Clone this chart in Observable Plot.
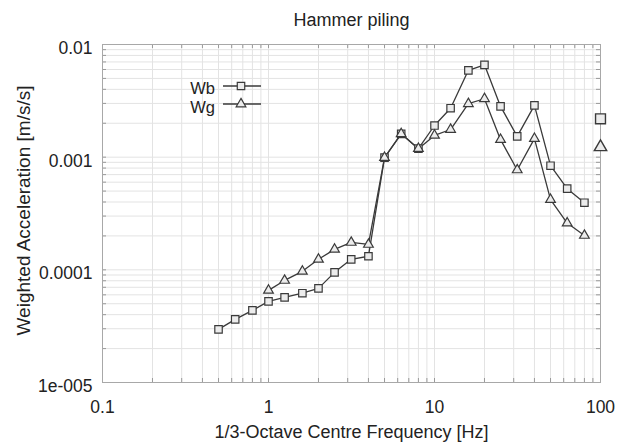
<!DOCTYPE html>
<html><head><meta charset="utf-8">
<script src="https://cdn.jsdelivr.net/npm/d3@7"></script>
<script src="https://cdn.jsdelivr.net/npm/@observablehq/plot@0.6"></script>
<style>
body{margin:0;background:#fff;font-family:"Liberation Sans",Arial,sans-serif}
#wrap{position:relative;width:632px;height:443px}
#legend{position:absolute;left:0;top:0;pointer-events:none}
</style>
</head><body><div id="wrap"></div>
<script>
// Data
const wbFreq = [0.5,0.63,0.8,1,1.25,1.6,2,2.5,3.15,4,5,6.3,8,10,12.5,16,20,25,31.5,40,50,63,80];
const wbValues = [2.96e-5,3.63e-5,4.37e-5,5.25e-5,5.7e-5,6.2e-5,6.85e-5,9.5e-5,1.24e-4,1.32e-4,9.9e-4,1.61e-3,1.19e-3,1.91e-3,2.72e-3,5.9e-3,6.6e-3,2.82e-3,1.53e-3,2.88e-3,8.4e-4,5.25e-4,3.94e-4];
const wgFreq = [1,1.25,1.6,2,2.5,3.15,4,5,6.3,8,10,12.5,16,20,25,31.5,40,50,63,80];
const wgValues = [6.57e-5,8.05e-5,9.7e-5,1.24e-4,1.52e-4,1.75e-4,1.68e-4,9.9e-4,1.61e-3,1.19e-3,1.56e-3,1.76e-3,2.98e-3,3.30e-3,1.43e-3,7.7e-4,1.46e-3,4.2e-4,2.6e-4,2.02e-4];
const overallFreq = [100];
const overallWb = [2.19e-3];
const overallWg = [1.23e-3];
const seriesNames = ["Wb","Wg"];
const xTicks = [0.1,1,10,100];
const xTickLabels = ["0.1","1","10","100"];
const yTicks = [1e-5,1e-4,1e-3,1e-2];
const yTickLabels = ["1e-005","0.0001","0.001","0.01"];
const titleText = "Hammer piling";
const xLabel = "1/3-Octave Centre Frequency [Hz]";
const yLabel = "Weighted Acceleration [m/s/s]";

// minor ticks (1..9 per decade)
const minorOf = (lo, hi) => {
  const out = [];
  for (let d = lo; d < hi * 0.999; d *= 10) for (let k = 1; k <= 9; k++) out.push(d * k);
  out.push(hi);
  return out;
};
const xMinor = minorOf(0.1, 100);
const yMinor = minorOf(1e-5, 1e-2);

const wb = wbFreq.map((f, i) => ({f, v: wbValues[i]}));
const wg = wgFreq.map((f, i) => ({f, v: wgValues[i]}));
const ovWb = overallFreq.map((f, i) => ({f, v: overallWb[i]}));
const ovWg = overallFreq.map((f, i) => ({f, v: overallWg[i]}));
const xTickData = xTicks.map((t, i) => ({t, label: xTickLabels[i]}));
const yTickData = yTicks.map((t, i) => ({t, label: yTickLabels[i]}));

const W = 632, H = 443, mL = 102, mR = 32, mT = 44, mB = 61;
const plotH = H - mT - mB, plotW = W - mL - mR;
const lineColor = "#3a3a3a";
const markFill = "#ececec";
const fs = 17.5;

const chart = Plot.plot({
  width: W, height: H,
  marginLeft: mL, marginRight: mR, marginTop: mT, marginBottom: mB,
  style: {fontFamily: "'Liberation Sans', Arial, sans-serif", fontSize: fs + "px", color: "#222", background: "#fff"},
  x: {type: "log", domain: [0.1, 100], axis: null},
  y: {type: "log", domain: [1e-5, 1e-2], axis: null},
  marks: [
    Plot.gridX(xMinor, {stroke: "#e3e3e3", strokeOpacity: 1}),
    Plot.gridY(yMinor, {stroke: "#e3e3e3", strokeOpacity: 1}),
    Plot.tickX(xMinor, {x: d => d, stroke: "#999", insetBottom: plotH - 4}),
    Plot.tickX(xMinor, {x: d => d, stroke: "#999", insetTop: plotH - 4}),
    Plot.tickY(yMinor, {y: d => d, stroke: "#999", insetRight: plotW - 4}),
    Plot.tickY(yMinor, {y: d => d, stroke: "#999", insetLeft: plotW - 4}),
    Plot.frame({stroke: "#a8a8a8"}),
    Plot.text(xTickData, {x: "t", text: "label", frameAnchor: "bottom", lineAnchor: "middle", dy: 25, fontSize: fs, fill: "#222"}),
    Plot.text(yTickData, {y: "t", text: "label", frameAnchor: "left", textAnchor: "end", dx: -10, dy: 4, fontSize: fs, fill: "#222"}),
    Plot.line(wb, {x: "f", y: "v", stroke: lineColor, strokeWidth: 1.3}),
    Plot.line(wg, {x: "f", y: "v", stroke: lineColor, strokeWidth: 1.3}),
    Plot.dot(wb, {x: "f", y: "v", symbol: "square", r: 4.2, stroke: lineColor, fill: markFill, strokeWidth: 1.2}),
    Plot.dot(wg, {x: "f", y: "v", symbol: "triangle", r: 3.6, stroke: lineColor, fill: markFill, strokeWidth: 1.2}),
    Plot.dot(ovWb, {x: "f", y: "v", symbol: "square", r: 5.6, stroke: lineColor, fill: markFill, strokeWidth: 1.4}),
    Plot.dot(ovWg, {x: "f", y: "v", symbol: "triangle", r: 4.6, stroke: lineColor, fill: markFill, strokeWidth: 1.4}),
    Plot.text([titleText], {frameAnchor: "top", lineAnchor: "middle", dy: -24, fontSize: 18, fill: "#222"}),
    Plot.text([xLabel], {frameAnchor: "bottom", lineAnchor: "middle", dy: 50, fontSize: 18, fill: "#222"}),
    Plot.text([yLabel], {frameAnchor: "left", textAnchor: "middle", dx: -79, dy: -3, rotate: -90, fontSize: 19, fill: "#222"})
  ]
});
const wrap = document.getElementById("wrap");
wrap.appendChild(chart);

// Legend overlay
const leg = d3.select(wrap).append("svg").attr("id", "legend").attr("width", W).attr("height", H);
const legItems = [
  {name: seriesNames[0], sym: d3.symbolSquare, size: Math.PI * 4.2 * 4.2, y: 86, ty: 88},
  {name: seriesNames[1], sym: d3.symbolTriangle, size: Math.PI * 3.6 * 3.6, y: 104, ty: 107.5}
];
legItems.forEach(it => {
  const g = leg.append("g");
  g.append("text").attr("x", 215).attr("y", it.ty).attr("dy", "0.35em").attr("text-anchor", "end")
    .attr("font-size", 16.5).attr("font-family", "'Liberation Sans', Arial, sans-serif").attr("fill", "#222").text(it.name);
  g.append("line").attr("x1", 223).attr("x2", 261).attr("y1", it.y).attr("y2", it.y).attr("stroke", lineColor).attr("stroke-width", 1.3);
  g.append("path").attr("transform", `translate(241,${it.y})`).attr("d", d3.symbol(it.sym, it.size)())
    .attr("fill", markFill).attr("stroke", lineColor).attr("stroke-width", 1.2);
});
</script>
</body></html>
